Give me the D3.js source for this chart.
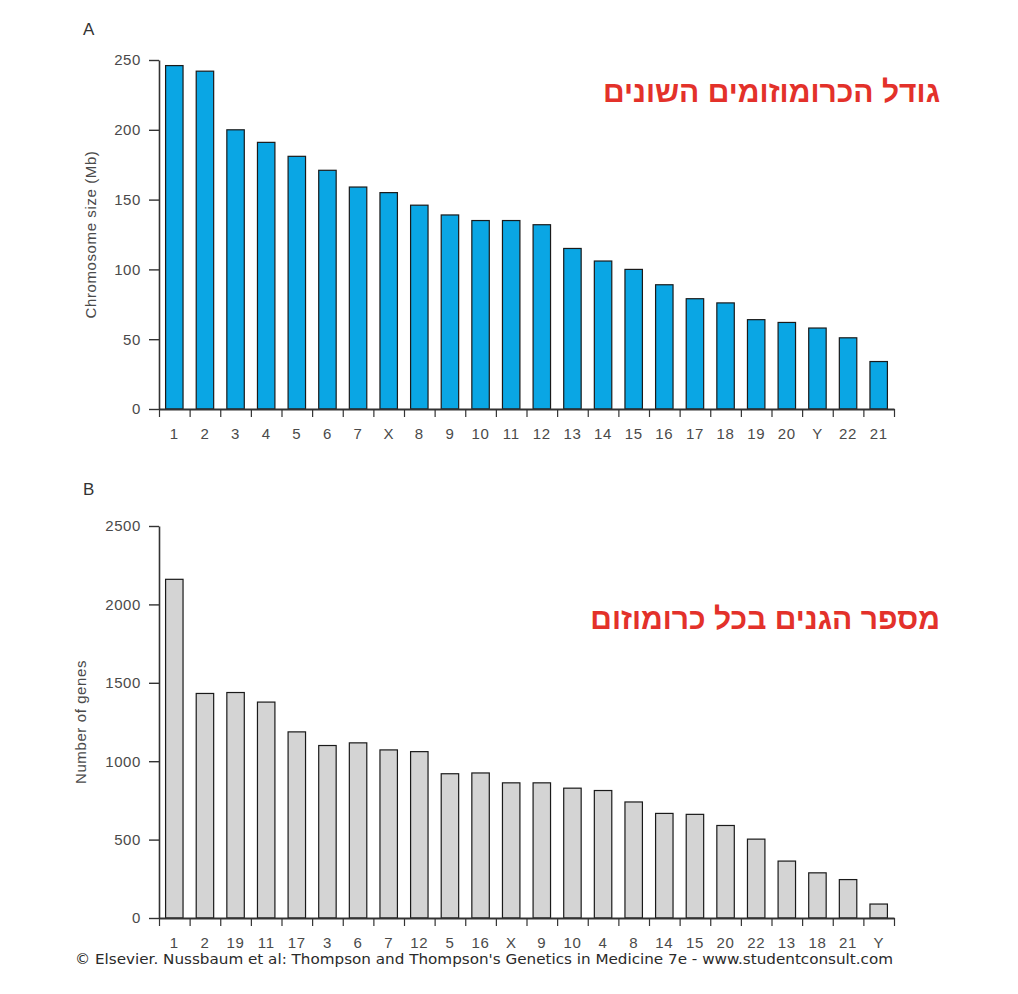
<!DOCTYPE html>
<html>
<head>
<meta charset="utf-8">
<script src="https://cdn.jsdelivr.net/npm/d3@7"></script>
<style>
  html, body { margin: 0; padding: 0; background: #fff; }
  svg { display: block; }
</style>
</head>
<body>
<svg id="chart" width="1018" height="994"></svg>
<script>
// Panel A: chromosome size (Mb), ordered by size
const sizeCategories = ["1", "2", "3", "4", "5", "6", "7", "X", "8", "9", "10", "11", "12",
  "13", "14", "15", "16", "17", "18", "19", "20", "Y", "22", "21"];
const sizeValues = [246, 242, 200, 191, 181, 171, 159, 155, 146, 139, 135, 135, 132,
  115, 106, 100, 89, 79, 76, 64, 62, 58, 51, 34];
const sizeTicks = [0, 50, 100, 150, 200, 250];

// Panel B: number of genes, ordered by gene count
const geneCategories = ["1", "2", "19", "11", "17", "3", "6", "7", "12", "5", "16", "X",
  "9", "10", "4", "8", "14", "15", "20", "22", "13", "18", "21", "Y"];
const geneValues = [2160, 1432, 1438, 1377, 1187, 1100, 1117, 1072, 1061, 920, 925, 862,
  862, 828, 813, 740, 667, 661, 590, 503, 363, 288, 245, 89];
const geneTicks = [0, 500, 1000, 1500, 2000, 2500];

const titleA = "גודל הכרומוזומים השונים";
const titleB = "מספר הגנים בכל כרומוזום";
const footer = "© Elsevier. Nussbaum et al: Thompson and Thompson's Genetics in Medicine 7e - www.studentconsult.com";

const svg = d3.select("#chart");
const FONT = "'Liberation Sans', Arial, sans-serif";
const AXIS = "#333";
const TEXT = "#4a4a4a";

drawPanel({
  cats: sizeCategories, values: sizeValues, ticks: sizeTicks,
  top: 60, bottom: 409, fill: "#0aa6e4",
  letter: "A", letterY: 35,
  yTitle: "Chromosome size (Mb)", yTitleX: 96,
  labelY: 439, title: titleA, titleY: 102,
});

drawPanel({
  cats: geneCategories, values: geneValues, ticks: geneTicks,
  top: 526, bottom: 918, fill: "#d4d4d4",
  letter: "B", letterY: 495,
  yTitle: "Number of genes", yTitleX: 86,
  labelY: 948, title: titleB, titleY: 629,
});

svg.append("text")
  .attr("x", 75)
  .attr("y", 964)
  .attr("font-family", "'DejaVu Sans', Verdana, sans-serif")
  .attr("font-size", 14.5)
  .attr("fill", "#2a2a2a")
  .attr("textLength", 818)
  .attr("lengthAdjust", "spacingAndGlyphs")
  .text(footer);

function drawPanel(p) {
  const left = 159;
  const right = 894;
  const maxVal = p.ticks[p.ticks.length - 1];

  const x = d3.scaleBand()
    .domain(p.cats)
    .range([left, right])
    .paddingInner(0.43)
    .paddingOuter(0.215);
  const xEdge = d3.scaleLinear().domain([0, p.cats.length]).range([left, right]);
  const y = d3.scaleLinear().domain([0, maxVal]).range([p.bottom, p.top]);

  // bars
  svg.append("g")
    .selectAll("rect")
    .data(p.values)
    .join("rect")
    .attr("x", (d, i) => x(p.cats[i]))
    .attr("y", (d) => y(d))
    .attr("width", x.bandwidth())
    .attr("height", (d) => y(0) - y(d))
    .attr("fill", p.fill)
    .attr("stroke", "#1a1a1a")
    .attr("stroke-width", 1.2);

  // y axis
  const yAxis = svg.append("g")
    .attr("transform", `translate(${left},0)`)
    .call(d3.axisLeft(y).tickValues(p.ticks).tickFormat(d3.format("d"))
      .tickSize(10).tickSizeOuter(0).tickPadding(8));
  yAxis.select(".domain").attr("stroke", AXIS).attr("stroke-width", 1.6);
  yAxis.selectAll(".tick line").attr("stroke", AXIS).attr("stroke-width", 1.4);
  yAxis.selectAll(".tick text")
    .attr("font-family", FONT)
    .attr("font-size", 15)
    .attr("letter-spacing", 0.6)
    .attr("fill", TEXT);

  // x axis: ticks at band edges
  const xAxis = svg.append("g")
    .attr("transform", `translate(0,${p.bottom})`)
    .call(d3.axisBottom(xEdge).tickValues(d3.range(p.cats.length + 1)).tickSize(8).tickSizeOuter(0).tickFormat(""));
  xAxis.select(".domain").attr("stroke", AXIS).attr("stroke-width", 2);
  xAxis.selectAll(".tick line").attr("stroke", AXIS).attr("stroke-width", 1.2);

  // x labels at band centres
  svg.append("g")
    .selectAll("text")
    .data(p.cats)
    .join("text")
    .attr("x", (d) => x(d) + x.bandwidth() / 2)
    .attr("y", p.labelY)
    .attr("text-anchor", "middle")
    .attr("font-family", FONT)
    .attr("font-size", 15)
    .attr("letter-spacing", 0.6)
    .attr("fill", TEXT)
    .text((d) => d);

  // y title
  svg.append("text")
    .attr("transform", `translate(${p.yTitleX},${(p.top + p.bottom) / 2}) rotate(-90)`)
    .attr("text-anchor", "middle")
    .attr("font-family", FONT)
    .attr("font-size", 15)
    .attr("letter-spacing", 0.6)
    .attr("fill", TEXT)
    .text(p.yTitle);

  // panel letter
  svg.append("text")
    .attr("x", 83)
    .attr("y", p.letterY)
    .attr("font-family", FONT)
    .attr("font-size", 17)
    .attr("fill", "#333")
    .text(p.letter);

  // red Hebrew title
  svg.append("text")
    .attr("x", 940)
    .attr("y", p.titleY)
    .attr("text-anchor", "end")
    .attr("font-family", FONT)
    .attr("font-size", 30)
    .attr("font-weight", "bold")
    .attr("fill", "#e3312a")
    .text(p.title);
}
</script>
</body>
</html>
